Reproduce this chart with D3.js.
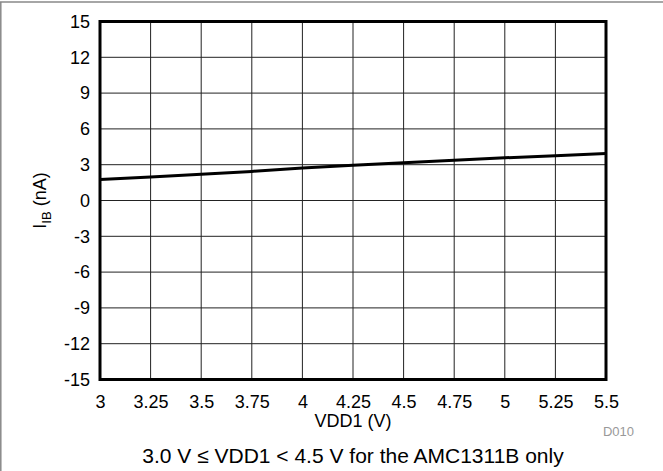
<!DOCTYPE html>
<html><head><meta charset="utf-8">
<script src="https://cdn.jsdelivr.net/npm/d3@7"></script>
<style>body{margin:0;background:#fff}svg{display:block}text{font-family:"Liberation Sans",Arial,sans-serif}</style>
</head><body><svg id="c" width="663" height="471"></svg>
<script>
const vdd = [3, 3.25, 3.5, 3.75, 4, 4.25, 4.5, 4.75, 5, 5.25, 5.5];
const ib = [1.77, 1.97, 2.19, 2.44, 2.72, 2.95, 3.17, 3.38, 3.58, 3.75, 3.93];
const xTicks = [3, 3.25, 3.5, 3.75, 4, 4.25, 4.5, 4.75, 5, 5.25, 5.5];
const yTicks = [-15, -12, -9, -6, -3, 0, 3, 6, 9, 12, 15];
const xTitle = "VDD1 (V)";
const caption = "3.0 V ≤ VDD1 < 4.5 V for the AMC1311B only";
const figId = "D010";

const svg = d3.select("#c");
const L = 100, R = 606, T = 21.5, B = 379.5;
const x = d3.scaleLinear().domain([3, 5.5]).range([L, R]);
const y = d3.scaleLinear().domain([-15, 15]).range([B, T]);

// outer frame (top & left)
svg.append("line").attr("x1",0).attr("x2",663).attr("y1",2).attr("y2",2).attr("stroke","#888").attr("stroke-width",1.5);
svg.append("line").attr("x1",0.8).attr("x2",0.8).attr("y1",2).attr("y2",471).attr("stroke","#888").attr("stroke-width",1.5);

// grid
svg.append("g").selectAll("line").data(xTicks).join("line")
  .attr("x1",d=>x(d)).attr("x2",d=>x(d)).attr("y1",T).attr("y2",B)
  .attr("stroke","#222").attr("stroke-width",1);
svg.append("g").selectAll("line").data(yTicks).join("line")
  .attr("x1",L).attr("x2",R).attr("y1",d=>y(d)).attr("y2",d=>y(d))
  .attr("stroke","#222").attr("stroke-width",1);

// axes labels
const xa = svg.append("g").attr("transform",`translate(0,${B})`)
  .call(d3.axisBottom(x).tickValues(xTicks).tickFormat(d=>String(d)).tickSize(0).tickPadding(15.4));
xa.select(".domain").remove();
xa.selectAll("text").attr("font-size",18).attr("fill","#000").attr("font-family","Liberation Sans, Arial, sans-serif");
const ya = svg.append("g").attr("transform",`translate(${L},0)`)
  .call(d3.axisLeft(y).tickValues(yTicks).tickFormat(d=>String(d)).tickSize(0).tickPadding(10));
ya.select(".domain").remove();
ya.selectAll("text").attr("font-size",18).attr("fill","#000").attr("font-family","Liberation Sans, Arial, sans-serif");

// data line
svg.append("path").datum(vdd.map((v,i)=>[v,ib[i]]))
  .attr("d", d3.line().x(d=>x(d[0])).y(d=>y(d[1])))
  .attr("fill","none").attr("stroke","#000").attr("stroke-width",3);

// plot border
svg.append("rect").attr("x",L).attr("y",T).attr("width",R-L).attr("height",B-T)
  .attr("fill","none").attr("stroke","#000").attr("stroke-width",3);

// titles
svg.append("text").attr("x",(L+R)/2).attr("y",427).attr("text-anchor","middle").attr("font-size",18).text(xTitle);
const yt = svg.append("text").attr("transform",`translate(46,${(T+B)/2}) rotate(-90)`).attr("text-anchor","middle").attr("font-size",18);
yt.append("tspan").text("I");
yt.append("tspan").attr("font-size",13).attr("dy",5).text("IB");
yt.append("tspan").attr("dy",-5).text(" (nA)");
svg.append("text").attr("x",634).attr("y",436).attr("text-anchor","end").attr("font-size",13).attr("fill","#999").text(figId);
svg.append("text").attr("x",(L+R)/2).attr("y",463).attr("text-anchor","middle").attr("font-size",21).text(caption);
</script></body></html>
